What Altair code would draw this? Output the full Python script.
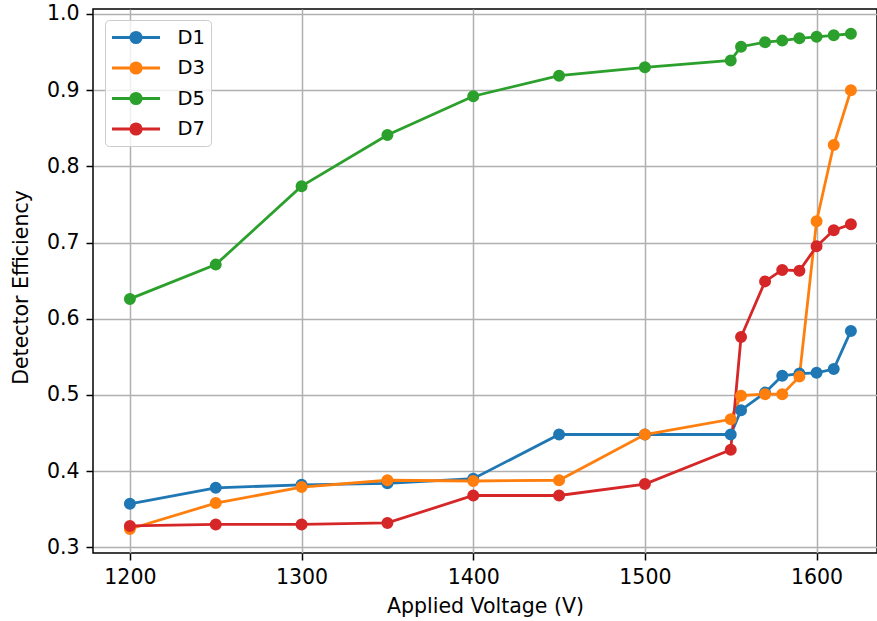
import altair as alt
import pandas as pd

# Applied voltage (V) for every measurement
voltage = [1200, 1250, 1300, 1350, 1400, 1450, 1500, 1550, 1556, 1570, 1580, 1590, 1600, 1610, 1620]

# Detector efficiency per detector
d1 = [0.357, 0.378, 0.382, 0.384, 0.390, 0.448, 0.448, 0.448, 0.480, 0.503, 0.525, 0.528, 0.529, 0.534, 0.584]
d3 = [0.324, 0.358, 0.379, 0.388, 0.387, 0.388, 0.448, 0.468, 0.499, 0.501, 0.501, 0.524, 0.728, 0.828, 0.900]
d5 = [0.626, 0.671, 0.774, 0.841, 0.892, 0.919, 0.930, 0.939, 0.957, 0.963, 0.965, 0.968, 0.970, 0.972, 0.974]
d7 = [0.328, 0.330, 0.330, 0.332, 0.368, 0.368, 0.383, 0.428, 0.576, 0.649, 0.664, 0.663, 0.695, 0.716, 0.724]

series_names = ["D1", "D3", "D5", "D7"]
series_colors = ["#1f77b4", "#ff7f0e", "#2ca02c", "#d62728"]

x_ticks = [1200, 1300, 1400, 1500, 1600]
y_ticks = [0.3, 0.4, 0.5, 0.6, 0.7, 0.8, 0.9, 1.0]

rows = []
for name, values in zip(series_names, [d1, d3, d5, d7]):
    for v, e in zip(voltage, values):
        rows.append({"voltage": v, "efficiency": e, "detector": name})
df = pd.DataFrame(rows)

FONT = "DejaVu Sans"

# line segment with a dot in the middle, used as the legend glyph
legend_glyph = "M-2.4,0H2.4M-0.52,0A0.52,0.52,0,1,1,0.52,0A0.52,0.52,0,1,1,-0.52,0Z"

x_enc = alt.X(
    "voltage:Q",
    scale=alt.Scale(domain=[1178.5, 1635.2], nice=False, zero=False),
    axis=alt.Axis(
        values=x_ticks,
        title="Applied Voltage (V)",
        titleBaseline="alphabetic",
        titleY=59,
        format="d",
    ),
)
y_enc = alt.Y(
    "efficiency:Q",
    scale=alt.Scale(domain=[0.2925, 1.0065], nice=False, zero=False),
    axis=alt.Axis(
        values=y_ticks,
        format=".1f",
        title="Detector Efficiency",
        titleBaseline="alphabetic",
        titleX=-66,
        titleY=278,
    ),
)

legend = alt.Legend(
    title=None,
    orient="none",
    legendX=12,
    legendY=11,
    symbolType=legend_glyph,
    symbolSize=400,
    symbolStrokeWidth=2.8,
    symbolOffset=13.5,
    symbolOpacity=1,
    labelOffset=30,
    labelFont=FONT,
    labelFontSize=19.5,
    labelColor="black",
    padding=6,
    rowPadding=7.5,
    fillColor="rgba(255,255,255,0.8)",
    strokeColor="#cccccc",
    cornerRadius=4,
)

color_scale = alt.Scale(domain=series_names, range=series_colors)

lines = alt.Chart(df).mark_line(strokeWidth=2.8).encode(
    x=x_enc,
    y=y_enc,
    stroke=alt.Stroke("detector:N", scale=color_scale, legend=legend),
)

points = alt.Chart(df).mark_point(filled=True, opacity=1, size=102, strokeWidth=1.9).encode(
    x=x_enc,
    y=y_enc,
    stroke=alt.Stroke("detector:N", scale=color_scale, legend=legend),
    fill=alt.Fill("detector:N", scale=color_scale, legend=legend),
)

chart = (
    alt.layer(lines, points)
    .properties(
        width=784,
        height=544,
        autosize=alt.AutoSizeParams(type="none"),
        padding={"left": 93, "top": 9, "right": 0, "bottom": 68},
        background="white",
    )
    .configure_view(stroke="black", strokeWidth=1.5)
    .configure_axis(
        grid=True,
        gridColor="#b0b0b0",
        gridWidth=1.5,
        domain=False,
        ticks=True,
        tickSize=7,
        tickWidth=1.5,
        tickColor="black",
        labelFont=FONT,
        labelFontSize=20.5,
        labelColor="black",
        labelPadding=7,
        titleFont=FONT,
        titleFontSize=20.5,
        titleFontWeight="normal",
        titleColor="black",
    )
)

chart.save("out.html", embed_options={"renderer": "svg", "actions": False})
